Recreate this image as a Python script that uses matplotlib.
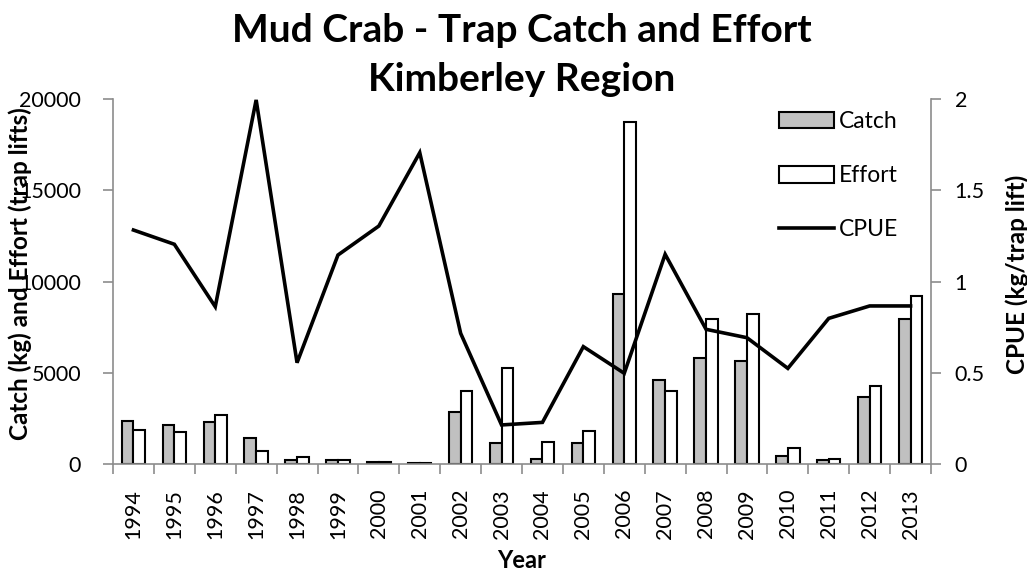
import matplotlib
matplotlib.use("Agg")
import matplotlib.pyplot as plt
import numpy as np

years = ["1994", "1995", "1996", "1997", "1998", "1999", "2000", "2001", "2002", "2003",
         "2004", "2005", "2006", "2007", "2008", "2009", "2010", "2011", "2012", "2013"]
catch_kg = [2375, 2140, 2320, 1410, 200, 237, 128, 60, 2866, 1132,
            270, 1170, 9315, 4600, 5826, 5662, 457, 220, 3690, 7963]
effort_lifts = [1863, 1770, 2685, 712, 384, 219, 110, 50, 4018, 5279,
                1224, 1808, 18756, 4000, 7927, 8200, 895, 270, 4292, 9205]
cpue = [1.282, 1.204, 0.862, 1.995, 0.555, 1.145, 1.304, 1.706, 0.716, 0.214,
        0.228, 0.643, 0.497, 1.149, 0.738, 0.692, 0.524, 0.798, 0.866, 0.866]

FONT = "Lato"
plt.rcParams["font.family"] = [FONT, "DejaVu Sans"]
TICK_FS = 15.5
LABEL_FS = 17.5
AXIS_GREY = "#8c8c8c"

W, H = 1027, 571
AX_L, AX_R, AX_T, AX_B = 113, 931, 99, 464
fig = plt.figure(figsize=(W / 100, H / 100), dpi=100)
ax = fig.add_axes([AX_L / W, 1 - AX_B / H, (AX_R - AX_L) / W, (AX_B - AX_T) / H])

x = np.arange(len(years))
bw = 0.286
bars_c = ax.bar(x - bw / 2, catch_kg, width=bw, color="#c0c0c0",
                edgecolor="black", linewidth=1.5, label="Catch", zorder=2)
bars_e = ax.bar(x + bw / 2, effort_lifts, width=bw, color="white",
                edgecolor="black", linewidth=1.5, label="Effort", zorder=2)

ax.set_xlim(-0.5, len(years) - 0.5)
ax.set_ylim(0, 20000)
ax.set_yticks([0, 5000, 10000, 15000, 20000])
ax.set_yticklabels(["0", "5000", "10000", "15000", "20000"], fontsize=TICK_FS)

# category boundaries carry the tick marks; labels sit at category centres
ax.set_xticks(np.arange(-0.5, len(years)), minor=False)
ax.set_xticklabels([])
ax.set_xticks(x, minor=True)
ax.set_xticklabels(years, minor=True, rotation=90, fontsize=TICK_FS)
ax.tick_params(axis="x", which="major", length=7, width=1.2, color=AXIS_GREY, direction="out")
ax.tick_params(axis="x", which="minor", length=0, pad=18)
ax.tick_params(axis="y", length=7, width=1.2, color=AXIS_GREY, direction="out", pad=16)

for side in ["top", "right"]:
    ax.spines[side].set_visible(False)
for side in ["left", "bottom"]:
    ax.spines[side].set_color(AXIS_GREY)
    ax.spines[side].set_linewidth(1.2)

ax2 = ax.twinx()
ax2.set_ylim(0, 2)
ax2.set_yticks([0, 0.5, 1, 1.5, 2])
ax2.set_yticklabels(["0", "0.5", "1", "1.5", "2"], fontsize=TICK_FS)
ax2.tick_params(axis="y", length=7, width=1.2, color=AXIS_GREY, direction="out", pad=10)
line, = ax2.plot(x, cpue, color="black", linewidth=2.6, label="CPUE",
                 solid_joinstyle="miter")
for side in ["top", "left", "bottom"]:
    ax2.spines[side].set_visible(False)
ax2.spines["right"].set_color(AXIS_GREY)
ax2.spines["right"].set_linewidth(1.2)

AW, AH = AX_R - AX_L, AX_B - AX_T
label_mid = (AX_B - 274) / AH
ax.set_xlabel("Year", fontsize=LABEL_FS - 0.5, fontweight="bold")
ax.xaxis.set_label_coords(0.5, -(549 - AX_B) / AH)
ax.set_ylabel("Catch (kg) and Effort (trap lifts)", fontsize=LABEL_FS, fontweight="bold")
ax.yaxis.set_label_coords((32 - AX_L) / AW, label_mid)
ax2.set_ylabel("CPUE (kg/trap lift)", fontsize=LABEL_FS, fontweight="bold")
ax2.yaxis.set_label_coords((1005 - AX_L) / AW, label_mid)

fig.text((AX_L + AX_R) / 2 / W, 1 - 55 / H, "Mud Crab - Trap Catch and Effort\nKimberley Region",
         ha="center", va="center", fontsize=28, fontweight="bold", linespacing=1.45)

leg = ax2.legend([bars_c, bars_e, line], ["Catch", "Effort", "CPUE"],
                 loc="upper left", bbox_to_anchor=(779 / W, 1 - 111 / H),
                 bbox_transform=fig.transFigure, frameon=False, fontsize=TICK_FS + 1,
                 handlelength=2.4, handleheight=0.75, labelspacing=1.45,
                 handletextpad=0.2, borderpad=0, borderaxespad=0)

fig.savefig("out.png", dpi=100)
